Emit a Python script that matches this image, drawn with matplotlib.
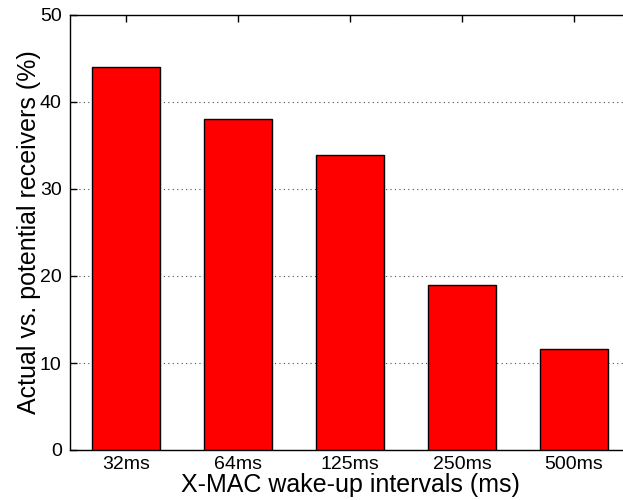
import matplotlib
matplotlib.use("Agg")
import matplotlib.pyplot as plt

labels = ["32ms", "64ms", "125ms", "250ms", "500ms"]
values = [44.0, 38.0, 33.9, 19.0, 11.6]

plt.rcParams["font.family"] = ["Liberation Sans", "DejaVu Sans"]

fig = plt.figure(figsize=(6.23, 5.0), dpi=100)
# axes runs slightly past the right edge, like the cropped original
ax = fig.add_axes([70 / 623, 50 / 500, 560 / 623, 435 / 500])

pos = list(range(1, len(values) + 1))
ax.bar(pos, values, width=0.6, color="#ff0000", edgecolor="black", linewidth=1.0, zorder=3)

ax.set_xlim(0.5, 5.5)
ax.set_ylim(0, 50)
ax.set_xticks(pos)
ax.set_xticklabels(labels)
ax.set_yticks([0, 10, 20, 30, 40, 50])

ax.yaxis.grid(True, linestyle=(0, (1, 3)), color="black", linewidth=0.8, alpha=0.7)
ax.set_axisbelow(True)

ax.tick_params(direction="in", length=5, width=1, labelsize=14, top=True, right=True)
ax.tick_params(axis="x", pad=4)
ax.tick_params(axis="y", pad=6)
for s in ax.spines.values():
    s.set_linewidth(1.0)

ax.set_xlabel("X-MAC wake-up intervals (ms)", fontsize=18, labelpad=0)
ax.set_ylabel("Actual vs. potential receivers (%)", fontsize=18, labelpad=-1)

fig.savefig("out.png", dpi=100)
